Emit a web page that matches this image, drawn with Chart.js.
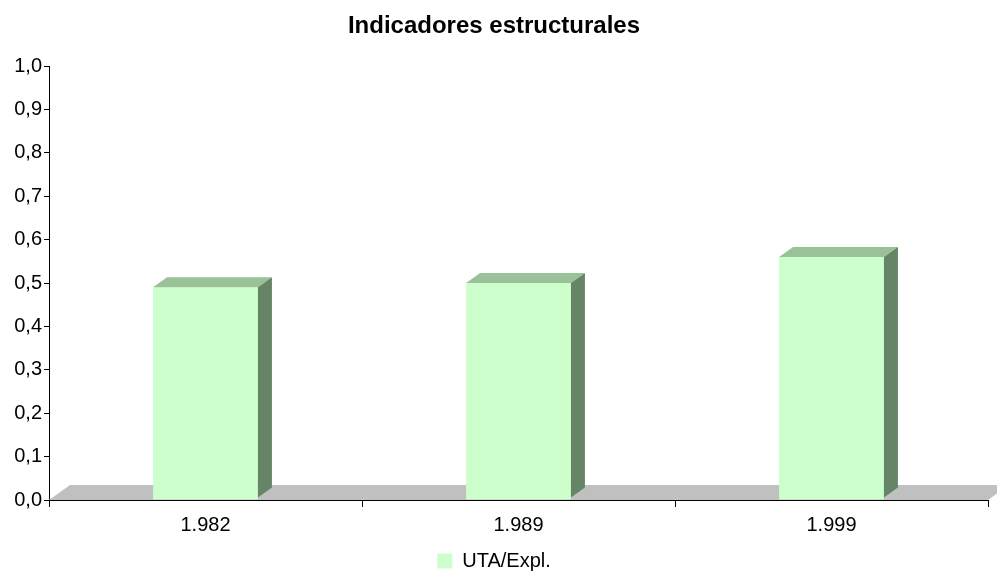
<!DOCTYPE html>
<html>
<head>
<meta charset="utf-8">
<script src="https://cdn.jsdelivr.net/npm/chart.js@4.4.0/dist/chart.umd.min.js"></script>
<style>
  html, body { margin: 0; padding: 0; background: #fff; }
  #wrap { width: 997px; height: 571px; }
</style>
</head>
<body>
<div id="wrap"><canvas id="chart"></canvas></div>
<script>
const years = ['1.982', '1.989', '1.999'];
const utaExpl = [0.49, 0.50, 0.56];
const seriesName = 'UTA/Expl.';

const FRONT = '#ccffcc', TOP = '#99c299', SIDE = '#668566', FLOOR = '#c0c0c0';

// floor and 3D faces for the bars
const fake3d = {
  id: 'fake3d',
  beforeDatasetsDraw(chart) {
    const { ctx, chartArea: a } = chart;
    const fdx = 21, fdy = 15;
    ctx.save();
    ctx.fillStyle = FLOOR;
    ctx.beginPath();
    ctx.moveTo(a.left, a.bottom);
    ctx.lineTo(a.left + fdx, a.bottom - fdy);
    ctx.lineTo(a.right + fdx, a.bottom - fdy);
    ctx.lineTo(a.right, a.bottom);
    ctx.closePath();
    ctx.fill();
    ctx.restore();
  },
  afterDatasetsDraw(chart) {
    const { ctx } = chart;
    const dx = 14, dy = 10;
    ctx.save();
    chart.getDatasetMeta(0).data.forEach(bar => {
      const l = bar.x - bar.width / 2, r = bar.x + bar.width / 2;
      const t = bar.y, b = bar.base - 2;
      ctx.fillStyle = TOP;
      ctx.beginPath();
      ctx.moveTo(l, t);
      ctx.lineTo(l + dx, t - dy);
      ctx.lineTo(r + dx, t - dy);
      ctx.lineTo(r, t);
      ctx.closePath();
      ctx.fill();
      ctx.fillStyle = SIDE;
      ctx.beginPath();
      ctx.moveTo(r, t);
      ctx.lineTo(r + dx, t - dy);
      ctx.lineTo(r + dx, b - dy);
      ctx.lineTo(r, b);
      ctx.closePath();
      ctx.fill();
    });
    ctx.restore();
  }
};

Chart.defaults.font.family = '"Liberation Sans", Arial, sans-serif';
Chart.defaults.color = '#000';

new Chart(document.getElementById('chart'), {
  type: 'bar',
  data: {
    labels: years,
    datasets: [{
      label: seriesName,
      data: utaExpl,
      backgroundColor: FRONT,
      borderWidth: 0,
      barPercentage: 1,
      categoryPercentage: 0.335
    }]
  },
  options: {
    responsive: true,
    maintainAspectRatio: false,
    animation: false,
    layout: { padding: { left: 0, right: 9, top: 0, bottom: -10 } },
    plugins: {
      title: {
        display: true,
        text: 'Indicadores estructurales',
        font: { size: 24, weight: 'bold' },
        color: '#000',
        padding: { top: 12, bottom: 25.2 }
      },
      legend: {
        position: 'bottom',
        labels: {
          boxWidth: 15,
          boxHeight: 15,
          font: { size: 20 },
          padding: 4
        }
      },
      tooltip: { enabled: false }
    },
    scales: {
      x: {
        grid: { display: true, drawOnChartArea: false, offset: true, tickLength: 7, color: '#000' },
        border: { color: '#000', width: 1 },
        ticks: { font: { size: 20 }, padding: 6 },
        afterFit(s) { s.height = 47; }
      },
      y: {
        min: 0,
        max: 1,
        ticks: {
          stepSize: 0.1,
          font: { size: 20 },
          padding: 2,
          callback: v => v.toFixed(1).replace('.', ',')
        },
        grid: { display: true, drawOnChartArea: false, tickLength: 5, color: '#000' },
        border: { color: '#000', width: 1 },
        afterFit(s) { s.width = 49; }
      }
    }
  },
  plugins: [fake3d]
});
</script>
</body>
</html>
